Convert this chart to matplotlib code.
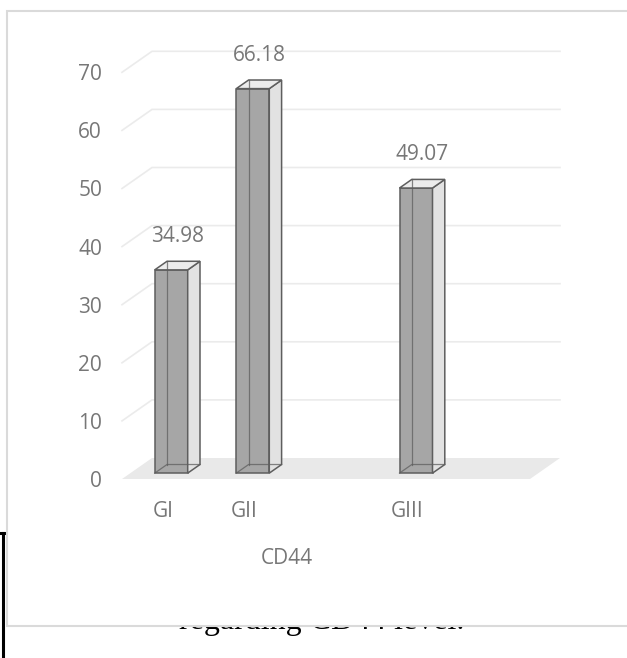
import matplotlib
matplotlib.use("Agg")
import matplotlib.pyplot as plt
from matplotlib.patches import Polygon, Rectangle
from matplotlib.lines import Line2D

# ---- data -------------------------------------------------------------
categories = ["GI", "GII", "", "GIII", ""]
values = [34.98, 66.18, None, 49.07, None]
y_ticks = [0, 10, 20, 30, 40, 50, 60, 70]
x_title = "CD44"
caption = "regarding CD44 level."

# ---- figure -----------------------------------------------------------
W, H, DPI = 627, 658, 100
plt.rcParams["font.family"] = ["Open Sans", "DejaVu Sans"]
fig = plt.figure(figsize=(W / DPI, H / DPI), dpi=DPI)
fig.patch.set_facecolor("white")

TEXT = "#777777"


def px_box(x0, y0, x1, y1):
    """Pixel box (origin top-left) -> figure fraction [l, b, w, h]."""
    return [x0 / W, 1 - y1 / H, (x1 - x0) / W, (y1 - y0) / H]


# surrounding document: caption line partly covered by the chart frame
fig.text(322 / W, 1 - 629 / H, caption, ha="center", va="baseline",
         family="Liberation Serif", fontsize=23, color="black", zorder=0.2)
fig.add_artist(Line2D([2.5 / W, 2.5 / W], [1 - 533 / H, 0],
                      transform=fig.transFigure, color="black", lw=2.2,
                      zorder=0.3))
fig.add_artist(Line2D([1 / W, 8 / W], [1 - 533 / H, 1 - 533 / H],
                      transform=fig.transFigure, color="black", lw=2.2,
                      zorder=0.3))

# chart frame
fig.add_artist(Rectangle((7 / W, 1 - 626 / H), 660 / W, 615 / H,
                         transform=fig.transFigure, facecolor="white",
                         edgecolor="#dadada", lw=1.5, zorder=1))

# ---- plot area (front plane of the 3-D box) ----------------------------
LEFT, RIGHT, TOP, BOTTOM = 122, 530, 72.3, 479
ax = fig.add_axes(px_box(LEFT, TOP, RIGHT, BOTTOM), zorder=2)
ax.set_xlim(-0.5, len(categories) - 0.5)
ax.set_ylim(0, 70)
ax.patch.set_visible(False)
for s in ax.spines.values():
    s.set_visible(False)

px_per_slot = (RIGHT - LEFT) / len(categories)
px_per_val = (BOTTOM - TOP) / 70
DX = 30 / px_per_slot   # full depth, in category units
DY = 21 / px_per_val    # full depth, in value units


def P(x, v, d):
    """Project (category, value, depth 0..1) onto the plot plane."""
    return (x + d * DX, v + d * DY)


x0, x1 = -0.5, len(categories) - 0.5

# floor
ax.add_patch(Polygon([P(x0, 0, 0), P(x1, 0, 0), P(x1, 0, 1), P(x0, 0, 1)],
                     closed=True, facecolor="#e9e9e9", edgecolor="none",
                     clip_on=False, zorder=1))

# gridlines on back wall and left wall
for t in y_ticks[1:]:
    xs, ys = zip(P(x0, t, 0), P(x0, t, 1), P(x1, t, 1))
    ax.plot(xs, ys, color="#ebebeb", lw=1.2, clip_on=False, zorder=1,
            solid_joinstyle="miter")

# 3-D columns
D0, D1 = 0.28, 0.69
HW = 16.5 / px_per_slot
EDGE = "#5e5e5e"
for i, v in enumerate(values):
    if v is None:
        continue
    l, r = i - HW, i + HW
    # edges seen through the translucent column
    for seg in ([P(l, 0, D1), P(l, v, D1)],
                [P(l, 0, D0), P(l, 0, D1), P(r, 0, D1)]):
        xs, ys = zip(*seg)
        ax.plot(xs, ys, color=EDGE, lw=0.9, alpha=0.75, clip_on=False,
                zorder=4)
    ax.add_patch(Polygon([P(l, 0, D0), P(r, 0, D0), P(r, v, D0), P(l, v, D0)],
                         closed=True, facecolor="#a6a6a6", edgecolor=EDGE,
                         lw=1.1, alpha=1, clip_on=False, zorder=3))
    ax.add_patch(Polygon([P(r, 0, D0), P(r, 0, D1), P(r, v, D1), P(r, v, D0)],
                         closed=True, facecolor="#e2e2e2", edgecolor=EDGE,
                         lw=1.1, clip_on=False, zorder=3))
    ax.add_patch(Polygon([P(l, v, D0), P(r, v, D0), P(r, v, D1), P(l, v, D1)],
                         closed=True, facecolor="#ececec", edgecolor=EDGE,
                         lw=1.1, clip_on=False, zorder=3))
    lx, ly = P(i, v, (D0 + D1) / 2)
    ax.annotate(f"{v:.2f}", (lx, ly), xytext=(0, 29 * 72 / DPI),
                textcoords="offset points", ha="center", va="center",
                fontsize=15, color=TEXT, annotation_clip=False)

# axes text
ax.set_yticks(y_ticks)
ax.set_yticklabels([str(t) for t in y_ticks])
ax.tick_params(axis="y", length=0, pad=20 * 72 / DPI, labelsize=15,
               labelcolor=TEXT)
ax.set_xticks(range(len(categories)))
ax.set_xticklabels(categories)
ax.tick_params(axis="x", length=0, pad=22 * 72 / DPI, labelsize=15,
               labelcolor=TEXT)
ax.set_xlabel(x_title, fontsize=15, color=TEXT)
ax.xaxis.set_label_coords((287 - LEFT) / (RIGHT - LEFT),
                          -(558 - BOTTOM) / (BOTTOM - TOP))
ax.xaxis.label.set_va("center")

fig.savefig("out.png", dpi=DPI, facecolor="white")
